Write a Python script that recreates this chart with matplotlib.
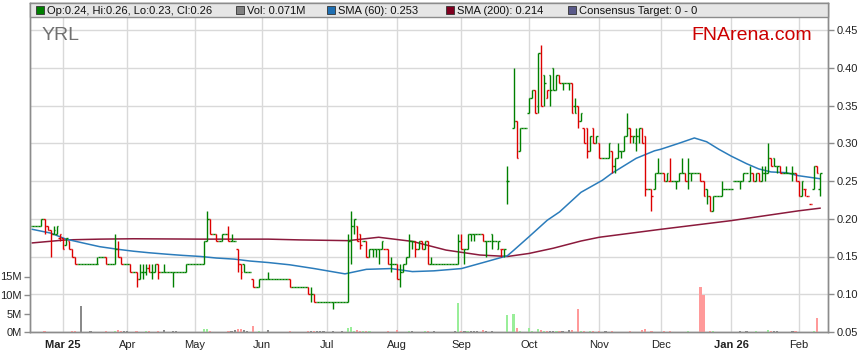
import numpy as np
import matplotlib
matplotlib.use("Agg")
import matplotlib.pyplot as plt
from matplotlib.patches import Rectangle

plt.rcParams['font.family'] = ['Liberation Sans', 'DejaVu Sans']

# daily bars, one entry per weekday from 17 Feb 2025, prices in thousandths of a dollar
opens = [
    190, 190, 190, 190, 200, 190, 185, 180, 180, 175,
    175, 165, 170, 160, 150, 140, 140, 140, 140, 140,
    140, 140, 150, 150, 150, 140, 140, 140, 160, 150,
    140, 140, 140, 130, 130, 120, 130, 130, 135, 130,
    130, 140, 130, 130, 130, 130, 130, 130, 130, 130,
    130, 140, 140, 140, 140, 140, 140, 170, 200, 180,
    180, 170, 170, 180, 180, 170, 170, 160, 140, 140,
    130, 130, 120, 110, 110, 120, 120, 120, 120, 120,
    120, 120, 120, 120, 120, 110, 110, 110, 110, 110,
    110, 100, 100, 90, 90, 90, 90, 90, 90, 90,
    90, 90, 90, 90, 170, 190, 190, 180, 170, 170,
    150, 160, 160, 160, 160, 160, 160, 140, 140, 140,
    120, 130, 140, 150, 170, 170, 160, 170, 160, 170,
    140, 140, 140, 140, 140, 140, 140, 140, 140, 140,
    170, 160, 160, 180, 180, 180, 180, 180, 170, 170,
    180, 170, 160, 160, 160, 250, None, 320, 330, 290,
    320, 320, 340, 360, 370, 350, 420, 390, 360, 390,
    400, 370, 390, 380, 380, 380, 380, 350, 350, 330,
    320, 320, 290, 320, 300, 300, 280, 280, 280, 290,
    270, 280, 290, 290, 310, 320, 310, 300, 310, 320,
    310, 240, 240, 240, 260, 260, 260, 250, 250, 250,
    250, 250, 260, 260, 250, 260, 260, 260, 260, 250,
    240, 230, 210, 230, 230, 230, 240, 240, 240, 250,
    250, 250, 250, 260, 250, 260, 250, 260, 250, 260,
    260, 280, 280, 270, 270, 260, 260, 260, 260, 260,
    250, 230, 240, 230, 220, 240, 270, 240,
]
highs = [
    190, 190, 190, 200, 200, 190, 185, 190, 190, 180,
    175, 175, 170, 160, 150, 140, 140, 140, 140, 140,
    140, 150, 150, 150, 150, 140, 140, 180, 170, 150,
    140, 140, 140, 130, 130, 140, 140, 140, 140, 140,
    140, 140, 130, 140, 130, 130, 130, 130, 130, 130,
    140, 140, 140, 140, 140, 140, 170, 210, 200, 180,
    180, 170, 180, 180, 190, 180, 170, 160, 140, 140,
    130, 130, 120, 110, 120, 120, 120, 130, 120, 120,
    120, 120, 120, 120, 120, 110, 110, 110, 110, 110,
    110, 110, 100, 90, 90, 90, 90, 90, 90, 90,
    90, 90, 90, 180, 210, 200, 190, 180, 170, 170,
    160, 160, 160, 160, 170, 160, 160, 150, 140, 140,
    140, 140, 150, 180, 170, 170, 170, 170, 170, 170,
    150, 140, 140, 140, 140, 140, 140, 140, 140, 180,
    180, 160, 180, 180, 180, 180, 180, 180, 170, 170,
    180, 170, 170, 160, 160, 270, None, 400, 330, 320,
    320, 320, 360, 370, 370, 420, 430, 390, 370, 390,
    400, 390, 390, 380, 380, 380, 380, 360, 350, 340,
    320, 320, 310, 320, 310, 300, 280, 280, 300, 290,
    280, 300, 290, 310, 340, 320, 310, 320, 320, 320,
    310, 240, 240, 260, 280, 260, 260, 260, 280, 250,
    250, 260, 280, 260, 280, 260, 260, 260, 260, 250,
    240, 230, 230, 230, 230, 250, 240, 240, 240, 250,
    250, 250, 260, 260, 270, 260, 260, 260, 270, 270,
    300, 280, 280, 270, 270, 260, 270, 260, 270, 260,
    250, 250, 240, 230, 220, 270, 270, 260,
]
lows = [
    190, 190, 190, 190, 180, 185, 150, 180, 180, 170,
    160, 165, 160, 150, 140, 140, 140, 140, 140, 140,
    140, 140, 150, 150, 140, 140, 140, 140, 150, 140,
    140, 140, 130, 130, 110, 120, 120, 125, 130, 120,
    130, 120, 130, 130, 130, 130, 110, 130, 130, 130,
    130, 140, 140, 140, 140, 140, 140, 170, 180, 180,
    170, 170, 170, 180, 170, 170, 170, 130, 120, 130,
    130, 130, 110, 110, 110, 120, 120, 120, 120, 120,
    120, 120, 120, 120, 110, 110, 110, 110, 110, 110,
    100, 90, 90, 90, 90, 90, 90, 90, 80, 90,
    90, 90, 90, 90, 140, 180, 170, 160, 170, 150,
    150, 150, 150, 140, 160, 160, 140, 130, 140, 120,
    110, 130, 140, 150, 160, 150, 160, 160, 160, 140,
    140, 140, 140, 140, 140, 140, 140, 140, 140, 140,
    160, 140, 160, 170, 170, 180, 180, 170, 150, 170,
    160, 170, 160, 150, 150, 220, None, 320, 280, 290,
    320, 320, 340, 360, 340, 340, 350, 350, 360, 350,
    370, 370, 380, 370, 380, 370, 340, 340, 320, 330,
    300, 280, 290, 300, 300, 280, 280, 280, 280, 260,
    260, 280, 280, 290, 310, 300, 300, 290, 300, 300,
    230, 240, 210, 240, 260, 260, 250, 250, 250, 250,
    240, 250, 260, 250, 240, 250, 260, 260, 250, 230,
    220, 210, 210, 230, 230, 230, 240, 240, 240, 250,
    250, 240, 250, 260, 250, 250, 250, 250, 250, 250,
    260, 270, 270, 260, 260, 260, 260, 260, 250, 250,
    230, 230, 230, 230, 220, 240, 260, 230,
]
closes = [
    190, 190, 190, 200, 190, 185, 180, 185, 190, 180,
    160, 175, 160, 150, 140, 140, 140, 140, 140, 140,
    140, 140, 150, 150, 140, 140, 140, 160, 150, 140,
    140, 140, 130, 130, 120, 130, 130, 135, 130, 130,
    140, 130, 130, 130, 130, 130, 130, 130, 130, 130,
    140, 140, 140, 140, 140, 140, 170, 200, 180, 180,
    170, 170, 180, 180, 170, 170, 170, 140, 130, 130,
    130, 130, 110, 110, 120, 120, 120, 120, 120, 120,
    120, 120, 120, 120, 110, 110, 110, 110, 110, 110,
    100, 100, 90, 90, 90, 90, 90, 90, 90, 90,
    90, 90, 90, 170, 190, 200, 170, 165, 170, 150,
    160, 160, 160, 160, 170, 160, 140, 140, 140, 120,
    130, 140, 150, 170, 170, 160, 170, 160, 170, 140,
    140, 140, 140, 140, 140, 140, 140, 140, 140, 170,
    160, 160, 180, 180, 180, 180, 180, 170, 170, 170,
    170, 170, 170, 160, 160, 250, None, 330, 280, 320,
    320, 320, 360, 370, 340, 420, 350, 380, 370, 370,
    370, 390, 380, 380, 380, 380, 340, 340, 330, 340,
    300, 290, 310, 300, 310, 280, 280, 280, 300, 270,
    280, 290, 290, 310, 320, 310, 310, 310, 320, 300,
    240, 240, 230, 260, 260, 260, 250, 260, 250, 250,
    250, 260, 260, 250, 260, 260, 260, 260, 250, 230,
    230, 210, 230, 230, 230, 240, 240, 240, 240, 250,
    250, 250, 260, 260, 260, 250, 260, 250, 260, 260,
    280, 270, 270, 270, 260, 260, 260, 260, 260, 250,
    230, 250, 240, 230, 220, 270, 260, 260,
]
# volume in millions of shares
volumes = [
    0, 0, 0, 0, 0.4, 0, 0, 0, 0, 0,
    0, 0, 0, 0.4, 0.3, 0, 7.0, 0, 0, 0.2,
    0, 0, 0, 0, 0.2, 0, 0, 0.3, 0.6, 0.3,
    0.2, 0.2, 0, 0, 0.3, 0, 0, 0.2, 0.2, 0,
    0, 0.3, 0, 0.5, 0, 0, 0.3, 0.2, 0, 0,
    0, 0, 0, 0, 0, 0, 0.7, 0.7, 0.3, 0,
    0, 0, 0, 0, 0.3, 0.4, 0.5, 0.8, 0.8, 0.6,
    0.3, 0, 1.5, 0, 0.3, 0, 0, 0.5, 0, 0,
    0, 0, 0, 0, 0.2, 0, 0, 0, 0, 0,
    0.2, 0.4, 0.4, 0.3, 0.2, 0.2, 0, 0, 0.2, 0,
    0, 0.2, 0, 1.2, 1.4, 0.3, 0.6, 0.3, 0.2, 0.3,
    0.2, 0, 0, 0.1, 0, 0, 0.15, 0, 0, 0.6,
    0, 0, 0, 0.3, 0.2, 0, 0, 0, 0.2, 0.2,
    0, 0.2, 0, 0, 0, 0, 0, 0, 0.4, 7.8,
    0.3, 0.3, 0.2, 0.2, 0.3, 0.2, 0, 0.6, 0.4, 0,
    0.3, 0, 0, 0, 0, 4.7, 0, 5.0, 1.2, 0.3,
    0, 0, 1.2, 0.4, 0, 0.9, 0.6, 0.4, 0.3, 0.4,
    0.3, 0.3, 0.2, 0.2, 0, 0.5, 0.5, 0, 6.3, 0.3,
    0.3, 0, 0.2, 0.2, 0, 0.2, 0, 0.2, 0, 0.2,
    0, 0, 0, 0, 0, 0.2, 0, 0, 0, 0.5,
    0.9, 0, 0.2, 0, 0, 0, 0.2, 0, 0.2, 0,
    0, 0, 0, 0, 0.2, 0, 0, 0, 12.2, 10.0,
    0, 0.3, 0.3, 0, 0, 0, 0, 0, 0, 0,
    0, 0.2, 0, 0.2, 0, 0, 0.2, 0, 0, 0,
    0.6, 0.2, 0.3, 0.2, 0, 0, 0, 0, 0.3, 0.2,
    0, 0, 0, 0, 0, 0.2, 3.8, 0.071,
]

# moving averages (day index, value)
sma60_days = [0, 6, 11, 17, 22, 28, 33, 38, 44, 49, 55, 60, 66, 71, 77, 84, 92,
              102, 109, 117, 124, 131, 140, 148, 155, 157, 162, 168, 172, 179,
              186, 189, 197, 203, 205, 211, 216, 220, 224, 228, 233, 237, 241,
              246, 250, 257]
sma60 = [0.186, 0.181, 0.173, 0.1675, 0.163, 0.1595, 0.157, 0.155, 0.153,
         0.1515, 0.150, 0.148, 0.1465, 0.144, 0.142, 0.139, 0.134, 0.127,
         0.133, 0.134, 0.130, 0.131, 0.134, 0.143, 0.151, 0.158, 0.176, 0.198,
         0.209, 0.235, 0.251, 0.260, 0.280, 0.290, 0.292, 0.300, 0.307, 0.302,
         0.292, 0.283, 0.273, 0.266, 0.262, 0.261, 0.257, 0.253]
sma200_days = [0, 11, 22, 33, 55, 77, 87, 103, 113, 124, 135, 146, 155, 162,
               170, 179, 185, 205, 228, 250, 257]
sma200 = [0.168, 0.172, 0.173, 0.1735, 0.173, 0.173, 0.172, 0.171, 0.1755,
          0.170, 0.1585, 0.152, 0.150, 0.154, 0.161, 0.1705, 0.1755, 0.186,
          0.1975, 0.2105, 0.214]

month_days = [10, 31, 53, 75, 96, 119, 140, 162, 185, 205, 228, 250]
month_labels = ["Mar 25", "Apr", "May", "Jun", "Jul", "Aug", "Sep", "Oct",
                "Nov", "Dec", "Jan 26", "Feb"]

o = np.array(opens, dtype=float) / 1000
h = np.array(highs, dtype=float) / 1000
l = np.array(lows, dtype=float) / 1000
c = np.array(closes, dtype=float) / 1000
v = np.array(volumes, dtype=float)
x = np.arange(len(c))

UP, DOWN = '#008000', '#dd0000'
bar_cols, vol_cols = [], []
prev = np.nan
for i in range(len(c)):
    if np.isnan(c[i]):
        bar_cols.append(UP)
        vol_cols.append('#9a9a9a')
        continue
    if not np.isnan(prev) and c[i] < prev:
        bar_cols.append(DOWN)
        vol_cols.append('#ff9a9a')
    elif not np.isnan(prev) and c[i] > prev:
        bar_cols.append(UP)
        vol_cols.append('#99ee99')
    else:
        bar_cols.append(UP)
        vol_cols.append('#8a8a8a')
    prev = c[i]

W, H = 859, 363
fig = plt.figure(figsize=(W / 100, H / 100), dpi=100)
ax = fig.add_axes([30 / W, 31 / H, 798 / W, 329 / H])
vax = ax.twinx()

frame = '#8c8c8c'
grid = '#d9d9d9'

# price panel
ax.set_xlim(-0.75, 259.6)
ax.set_ylim(0.05, 0.05 + 329 / 755)
ax.set_yticks(np.arange(0.05, 0.451, 0.05))
ax.set_yticklabels([f"{t:.2f}" for t in np.arange(0.05, 0.451, 0.05)])
ax.yaxis.tick_right()
ax.set_xticks(month_days)
ax.set_xticklabels(month_labels)
for t in ax.get_xticklabels():
    if t.get_text() in ("Mar 25", "Jan 26"):
        t.set_fontweight('bold')
ax.grid(True, color=grid, lw=1)
ax.set_axisbelow(True)
ax.tick_params(axis='y', direction='out', length=4, width=1, color=frame,
               labelsize=8, labelcolor='#222222', pad=2)
ax.tick_params(axis='x', length=0, labelsize=8, labelcolor='#222222', pad=6)

ax.plot(sma200_days, sma200, color='#8b1a3c', lw=1.1, zorder=2)
ax.plot(sma60_days, sma60, color='#2b7cbb', lw=1.1, zorder=2)

ok = ~np.isnan(c)
cols = np.array(bar_cols)[ok]
xs = x[ok]
ax.vlines(xs, l[ok], h[ok], colors=cols, lw=1.0, zorder=3)
ax.hlines(o[ok], xs - 0.5, xs, colors=cols, lw=1.0, zorder=3)
ax.hlines(c[ok], xs, xs + 0.5, colors=cols, lw=1.0, zorder=3)

# volume panel
vax.set_ylim(0, 329 / 3.7)
vax.bar(x, v, width=0.7, color=vol_cols, zorder=1)
vax.yaxis.tick_left()
vax.set_yticks([0, 5, 10, 15])
vax.set_yticklabels(["0M", "5M", "10M", "15M"])
vax.tick_params(axis='y', direction='out', length=4, width=1, color=frame,
                labelsize=8, labelcolor='#222222', pad=2)

for a in (ax, vax):
    for s in a.spines.values():
        s.set_color(frame)
        s.set_linewidth(1)

# legend strip
fig.add_artist(Rectangle((30 / W, 1 - 17 / H), 798 / W, 14 / H,
                         transform=fig.transFigure, facecolor='#e6e6e6',
                         edgecolor=frame, lw=1, zorder=5))
items = [(36, '#008000', "Op:0.24, Hi:0.26, Lo:0.23, Cl:0.26"),
         (236, '#808080', "Vol: 0.071M"),
         (327, '#1f6fb2', "SMA (60): 0.253"),
         (446, '#800020', "SMA (200): 0.214"),
         (568, '#5a5a8a', "Consensus Target: 0 - 0")]
for px, col, txt in items:
    fig.add_artist(Rectangle((px / W, 1 - 14 / H), 8 / W, 8 / H,
                             transform=fig.transFigure, facecolor=col,
                             edgecolor='#333333', lw=0.6, zorder=6))
    fig.text((px + 11) / W, 1 - 10.5 / H, txt, fontsize=8, va='center',
             color='#111111', zorder=7)

fig.text(42 / W, 1 - 39.5 / H, "YRL", fontsize=14, color='#707070',
         va='baseline')
fig.text(691 / W, 1 - 39.5 / H, "FNArena.com", fontsize=14, color='#cc0000',
         va='baseline')

fig.savefig("out.png", dpi=100)
